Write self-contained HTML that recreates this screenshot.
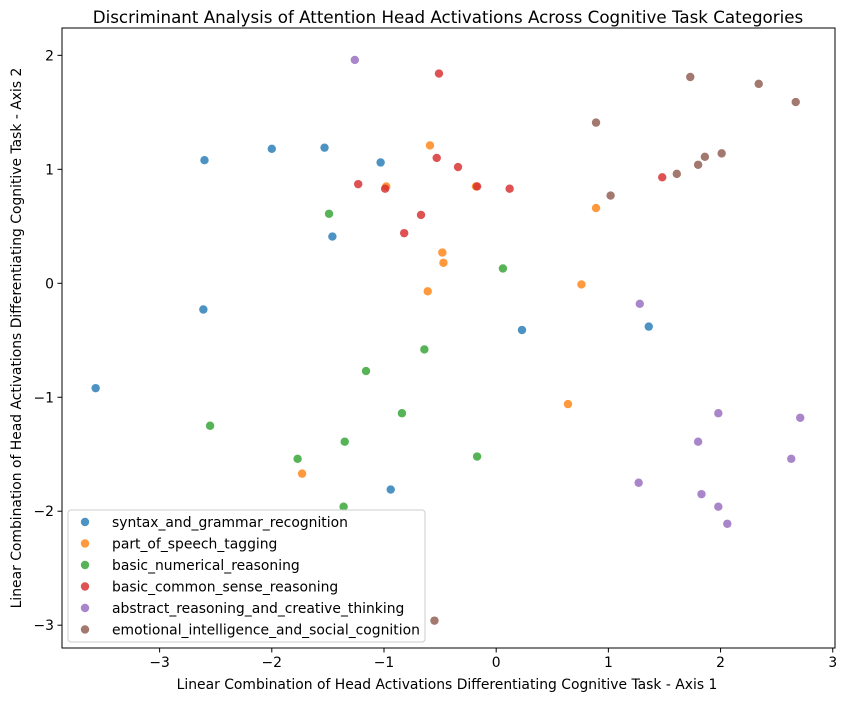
<!DOCTYPE html>
<html><head><meta charset="utf-8"><style>
body{margin:0;background:#fff;font-family:"Liberation Sans","DejaVu Sans",sans-serif}
svg text{font-family:"DejaVu Sans","Liberation Sans",sans-serif;fill:#000}
</style></head><body>
<svg id="c" width="846" height="701" xmlns="http://www.w3.org/2000/svg"></svg>
<script>
const seriesNames=["syntax_and_grammar_recognition","part_of_speech_tagging","basic_numerical_reasoning","basic_common_sense_reasoning","abstract_reasoning_and_creative_thinking","emotional_intelligence_and_social_cognition"];
const colors=["#1f77b4","#ff7f0e","#2ca02c","#d62728","#9467bd","#8c564b"];
const xSyntax=[-2.60,-2.0,-1.53,-1.03,-1.46,-2.61,-3.57,0.23,1.36,-0.94];
const ySyntax=[1.08,1.18,1.19,1.06,0.41,-0.23,-0.92,-0.41,-0.38,-1.81];
const xPos=[-0.59,-0.98,-0.18,0.89,-0.48,-0.47,-0.61,0.76,0.64,-1.73];
const yPos=[1.21,0.85,0.85,0.66,0.27,0.18,-0.07,-0.01,-1.06,-1.67];
const xNum=[-1.49,0.06,-0.64,-1.16,-0.84,-2.55,-1.35,-0.17,-1.77,-1.36];
const yNum=[0.61,0.13,-0.58,-0.77,-1.14,-1.25,-1.39,-1.52,-1.54,-1.96];
const xCommon=[-0.51,-0.53,-0.34,-1.23,-0.99,-0.17,0.12,-0.67,-0.82,1.48];
const yCommon=[1.84,1.10,1.02,0.87,0.83,0.85,0.83,0.60,0.44,0.93];
const xAbstract=[-1.26,1.28,1.98,2.71,1.80,2.63,1.27,1.83,1.98,2.06];
const yAbstract=[1.96,-0.18,-1.14,-1.18,-1.39,-1.54,-1.75,-1.85,-1.96,-2.11];
const xEmo=[1.73,2.34,2.67,0.89,1.02,1.61,1.80,1.86,2.01,-0.55];
const yEmo=[1.81,1.75,1.59,1.41,0.77,0.96,1.04,1.11,1.14,-2.96];
const xTicks=[-3,-2,-1,0,1,2,3];
const yTicks=[-3,-2,-1,0,1,2];
const allX=[xSyntax,xPos,xNum,xCommon,xAbstract,xEmo];
const allY=[ySyntax,yPos,yNum,yCommon,yAbstract,yEmo];

const L=62,R=835,T=28,B=648;
const X0=-3.87,X1=3.02,Y0=-3.20,Y1=2.24;
const sx=v=>L+(v-X0)/(X1-X0)*(R-L);
const sy=v=>B-(v-Y0)/(Y1-Y0)*(B-T);
const svg=document.getElementById('c');
const NS="http://www.w3.org/2000/svg";
function el(t,a,txt){const e=document.createElementNS(NS,t);for(const k in a)e.setAttribute(k,a[k]);if(txt!==undefined)e.textContent=txt;svg.appendChild(e);return e;}

let t=el('text',{x:448,y:23,'text-anchor':'middle','font-size':16.7},"Discriminant Analysis of Attention Head Activations Across Cognitive Task Categories");



allX.forEach((xs,s)=>{xs.forEach((xv,i)=>{
 const c=el('circle',{cx:sx(xv),cy:sy(allY[s][i]),r:4.2,fill:colors[s],'fill-opacity':0.8});
 
 
});});

let fr=el('rect',{x:L,y:T,width:R-L,height:B-T,fill:'none',stroke:'#000','stroke-width':1});



xTicks.forEach(v=>{const x=sx(v);
 el('line',{x1:x,x2:x,y1:B,y2:B+4.5,stroke:'#000'});
 const tx=el('text',{x:x,y:B+19,'text-anchor':'middle','font-size':13.9},v<0?'\u2212'+(-v):String(v));
 
 
});
yTicks.forEach(v=>{const y=sy(v);
 el('line',{x1:L-4.5,x2:L,y1:y,y2:y,stroke:'#000'});
 const tx=el('text',{x:L-8,y:y+5,'text-anchor':'end','font-size':13.9},v<0?'\u2212'+(-v):String(v));
 
 
});
t=el('text',{x:447,y:689,'text-anchor':'middle','font-size':13.9},"Linear Combination of Head Activations Differentiating Cognitive Task - Axis 1");


t=el('text',{x:21,y:338,'text-anchor':'middle','font-size':13.9,transform:'rotate(-90 21 338)'},"Linear Combination of Head Activations Differentiating Cognitive Task - Axis 2");



let lg=el('rect',{x:68,y:510,width:357,height:132,rx:3,fill:'#fff','fill-opacity':0.8,stroke:'#ccc'});


seriesNames.forEach((n,i)=>{const y=522+i*21.5;
 const m=el('circle',{cx:85,cy:y,r:4.2,fill:colors[i],'fill-opacity':0.8});
 
 
 const tx=el('text',{x:112,y:y+5,'font-size':13.9},n);
 
 
});
</script>
</body></html>
